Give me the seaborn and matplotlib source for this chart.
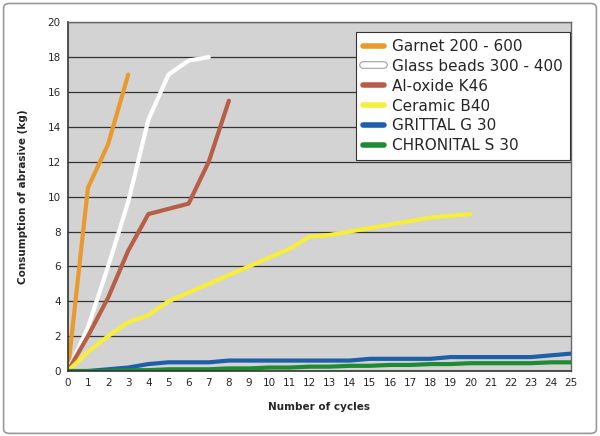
import pandas as pd
import seaborn as sns
import matplotlib.pyplot as plt
import matplotlib.patheffects as pe
from matplotlib.patches import FancyBboxPatch

# Values
garnet = [0, 10.5, 13, 17]
glass_beads = [0, 2.5, 6, 9.7, 14.4, 17, 17.8, 18]
al_oxide = [0, 2, 4.2, 6.9, 9, 9.3, 9.6, 12, 15.5]
ceramic = [0, 1.1, 2.0, 2.8, 3.2, 4.0, 4.5, 5.0, 5.5, 6.0, 6.5, 7.0, 7.7,
           7.8, 8.0, 8.2, 8.4, 8.6, 8.8, 8.9, 9.0]
grittal = [0, 0, 0.1, 0.2, 0.4, 0.5, 0.5, 0.5, 0.6, 0.6, 0.6, 0.6, 0.6,
           0.6, 0.6, 0.7, 0.7, 0.7, 0.7, 0.8, 0.8, 0.8, 0.8, 0.8, 0.9, 1.0]
chronital = [0, 0, 0, 0.05, 0.05, 0.1, 0.1, 0.1, 0.15, 0.15, 0.2, 0.2, 0.25,
             0.25, 0.3, 0.3, 0.35, 0.35, 0.4, 0.4, 0.45, 0.45, 0.45, 0.45,
             0.5, 0.5]

series = {
    'Garnet 200 - 600': garnet,
    'Glass beads 300 - 400': glass_beads,
    'Al-oxide K46': al_oxide,
    'Ceramic B40': ceramic,
    'GRITTAL G 30': grittal,
    'CHRONITAL S 30': chronital,
}
colors = ['#E99A2C', '#FFFFFF', '#B65E46', '#F6EE3A', '#1D5FA9', '#1E8B33']

# Long-form table for seaborn
rows = []
for name, values in series.items():
    for cycle, val in enumerate(values):
        rows.append({'cycle': cycle, 'kg': val, 'abrasive': name})
data = pd.DataFrame(rows)

sns.set_theme(style="white")
plt.rcParams['font.family'] = ['DejaVu Sans']

fig = plt.figure(figsize=(6, 4.36), dpi=100)
ax = fig.add_axes([0.113, 0.149, 0.839, 0.8])
ax.set_facecolor('#D3D3D3')

sns.lineplot(data=data, x='cycle', y='kg', hue='abrasive',
             palette=colors, linewidth=3, ax=ax, legend=True)

ax.set_xlim(0, 25)
ax.set_ylim(0, 20)
ax.set_xticks(range(0, 26))
ax.set_yticks(range(0, 21, 2))
ax.tick_params(axis='both', labelsize=7.5, length=3, width=0.8,
               color='#333333', direction='out', pad=2)
ax.grid(axis='y', color='#333333', linewidth=0.9)
ax.set_axisbelow(True)
for side in ['top', 'right']:
    ax.spines[side].set_color('#666666')
    ax.spines[side].set_linewidth(1)
for side in ['left', 'bottom']:
    ax.spines[side].set_color('#333333')
    ax.spines[side].set_linewidth(1.2)

ax.set_xlabel('Number of cycles', fontsize=7.5, fontweight='bold', labelpad=10)
ax.set_ylabel('Consumption of abrasive (kg)', fontsize=7.5,
              fontweight='bold', labelpad=14)

leg = ax.legend(loc='upper right', bbox_to_anchor=(0.997, 0.972),
                fontsize=11, frameon=True, fancybox=False,
                handlelength=1.4, handletextpad=0.5, labelspacing=0.32,
                borderpad=0.45, borderaxespad=0)
leg.get_frame().set_edgecolor('#333333')
leg.get_frame().set_linewidth(0.8)
leg.get_frame().set_alpha(1)
for line in leg.get_lines():
    line.set_linewidth(4)
    line.set_path_effects([])
# outline the white legend handle
leg.get_lines()[1].set_path_effects(
    [pe.Stroke(linewidth=5.5, foreground='#999999'), pe.Normal()])

# rounded outer frame
fig.patches.append(FancyBboxPatch((0.006, 0.006), 0.988, 0.986,
                                  boxstyle='round,pad=0,rounding_size=0.01',
                                  transform=fig.transFigure,
                                  facecolor='none', edgecolor='#999999',
                                  linewidth=1.2))

fig.savefig('out.png', dpi=100)
